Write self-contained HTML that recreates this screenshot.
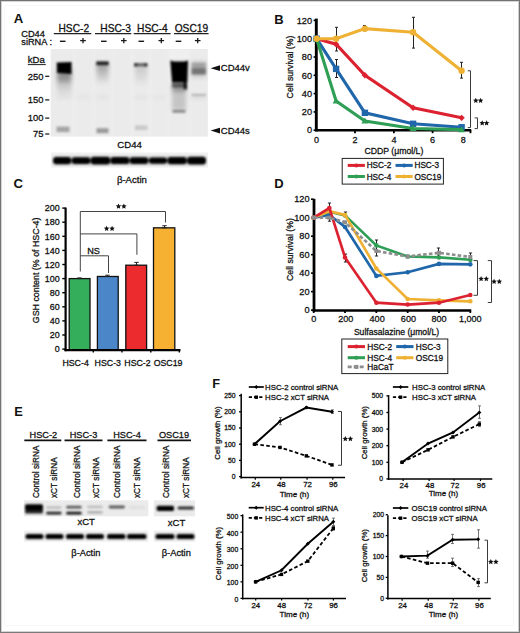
<!DOCTYPE html><html><head><meta charset="utf-8"><style>
html,body{margin:0;padding:0;background:#fff;}
svg{display:block;font-family:"Liberation Sans", sans-serif;}
</style></head><body>
<svg width="520" height="633" viewBox="0 0 520 633">
<defs><filter id="b1" x="-50%" y="-50%" width="200%" height="200%"><feGaussianBlur stdDeviation="1.2"/></filter><filter id="b2" x="-50%" y="-50%" width="200%" height="200%"><feGaussianBlur stdDeviation="2.2"/></filter><filter id="b3" x="-50%" y="-50%" width="200%" height="200%"><feGaussianBlur stdDeviation="0.8"/></filter><linearGradient id="smear" x1="0" y1="0" x2="0" y2="1"><stop offset="0" stop-color="#000" stop-opacity="0.35"/><stop offset="1" stop-color="#000" stop-opacity="0"/></linearGradient></defs>
<rect x="0" y="0" width="520" height="633" fill="#fff" />
<text x="13.8" y="23.3" font-size="13.2" text-anchor="start" font-weight="bold" fill="#111"  >A</text>
<text x="21.3" y="36.7" font-size="9.2" text-anchor="start" font-weight="normal" fill="#111" stroke="#111" stroke-width="0.28" >CD44</text>
<text x="21.3" y="45.2" font-size="9.2" text-anchor="start" font-weight="normal" fill="#111" stroke="#111" stroke-width="0.28" >siRNA</text>
<text x="49.6" y="45.2" font-size="9.2" text-anchor="start" font-weight="normal" fill="#111" stroke="#111" stroke-width="0.28" >:</text>
<text x="73.8" y="31.6" font-size="10.2" text-anchor="middle" font-weight="normal" fill="#111" stroke="#111" stroke-width="0.28" >HSC-2</text>
<line x1="53.8" y1="33.6" x2="91.3" y2="33.6" stroke="#222" stroke-width="1.2" />
<text x="115.6" y="31.6" font-size="10.2" text-anchor="middle" font-weight="normal" fill="#111" stroke="#111" stroke-width="0.28" >HSC-3</text>
<line x1="95" y1="33.6" x2="131.3" y2="33.6" stroke="#222" stroke-width="1.2" />
<text x="152.4" y="31.6" font-size="10.2" text-anchor="middle" font-weight="normal" fill="#111" stroke="#111" stroke-width="0.28" >HSC-4</text>
<line x1="133.7" y1="33.6" x2="170.6" y2="33.6" stroke="#222" stroke-width="1.2" />
<text x="191.4" y="31.6" font-size="10.2" text-anchor="middle" font-weight="normal" fill="#111" stroke="#111" stroke-width="0.28" >OSC19</text>
<line x1="174" y1="33.6" x2="208.6" y2="33.6" stroke="#222" stroke-width="1.2" />
<line x1="59.900000000000006" y1="41.3" x2="65.5" y2="41.3" stroke="#1a1a1a" stroke-width="1.4" />
<line x1="101.0" y1="41.3" x2="106.6" y2="41.3" stroke="#1a1a1a" stroke-width="1.4" />
<line x1="138.5" y1="41.3" x2="144.10000000000002" y2="41.3" stroke="#1a1a1a" stroke-width="1.4" />
<line x1="175.7" y1="41.3" x2="181.3" y2="41.3" stroke="#1a1a1a" stroke-width="1.4" />
<line x1="80.2" y1="40.6" x2="85.8" y2="40.6" stroke="#1a1a1a" stroke-width="1.3" />
<line x1="83.0" y1="38.0" x2="83.0" y2="43.2" stroke="#1a1a1a" stroke-width="1.3" />
<line x1="121.0" y1="40.6" x2="126.6" y2="40.6" stroke="#1a1a1a" stroke-width="1.3" />
<line x1="123.8" y1="38.0" x2="123.8" y2="43.2" stroke="#1a1a1a" stroke-width="1.3" />
<line x1="158.5" y1="40.6" x2="164.10000000000002" y2="40.6" stroke="#1a1a1a" stroke-width="1.3" />
<line x1="161.3" y1="38.0" x2="161.3" y2="43.2" stroke="#1a1a1a" stroke-width="1.3" />
<line x1="194.89999999999998" y1="40.6" x2="200.5" y2="40.6" stroke="#1a1a1a" stroke-width="1.3" />
<line x1="197.7" y1="38.0" x2="197.7" y2="43.2" stroke="#1a1a1a" stroke-width="1.3" />
<text x="27.8" y="63.0" font-size="9.6" text-anchor="start" font-weight="normal" fill="#111" stroke="#111" stroke-width="0.28" >kDa</text>
<line x1="27.8" y1="64.6" x2="45.8" y2="64.6" stroke="#222" stroke-width="1.0" />
<text x="43.4" y="79.6" font-size="9.4" text-anchor="end" font-weight="normal" fill="#111" stroke="#111" stroke-width="0.28" >250</text>
<line x1="45.2" y1="76.3" x2="49.3" y2="76.3" stroke="#222" stroke-width="1.3" />
<text x="43.4" y="103.2" font-size="9.4" text-anchor="end" font-weight="normal" fill="#111" stroke="#111" stroke-width="0.28" >150</text>
<line x1="45.2" y1="99.9" x2="49.3" y2="99.9" stroke="#222" stroke-width="1.3" />
<text x="43.4" y="121.39999999999999" font-size="9.4" text-anchor="end" font-weight="normal" fill="#111" stroke="#111" stroke-width="0.28" >100</text>
<line x1="45.2" y1="118.1" x2="49.3" y2="118.1" stroke="#222" stroke-width="1.3" />
<text x="43.4" y="137.3" font-size="9.4" text-anchor="end" font-weight="normal" fill="#111" stroke="#111" stroke-width="0.28" >75</text>
<line x1="45.2" y1="134.0" x2="49.3" y2="134.0" stroke="#222" stroke-width="1.3" />
<g>
<rect x="50.7" y="49.0" width="157.1" height="87.6" fill="#ebebeb" />
<g filter="url(#b1)" opacity="0.28">
<rect x="73.5" y="49" width="2" height="87" fill="#fafafa"/>
<rect x="92.5" y="49" width="2" height="87" fill="#fafafa"/>
<rect x="111.5" y="49" width="2" height="87" fill="#fafafa"/>
<rect x="131" y="49" width="2" height="87" fill="#fafafa"/>
<rect x="149" y="49" width="2" height="87" fill="#fafafa"/>
<rect x="167.5" y="49" width="2" height="87" fill="#fafafa"/>
<rect x="188.5" y="49" width="2" height="87" fill="#fafafa"/>
<rect x="170" y="49" width="18" height="10" fill="#fafafa"/>
</g>
<g filter="url(#b2)">
<rect x="57" y="68" width="14.5" height="30" fill="url(#smear)"/>
<rect x="57" y="72" width="14.5" height="10" fill="#000" opacity="0.18"/>
<rect x="96.5" y="63" width="12" height="22" fill="url(#smear)"/>
<rect x="135" y="65" width="12.5" height="22" fill="url(#smear)" opacity="0.45"/>
<rect x="172" y="84" width="14" height="8" fill="#000" opacity="0.35"/>
<rect x="172" y="92" width="14" height="18" fill="#000" opacity="0.16"/>
<rect x="191" y="61.5" width="15" height="16" fill="#000" opacity="0.15"/>
<rect x="57" y="96.2" width="14" height="2.2" fill="#000" opacity="0.07"/>
<rect x="76.5" y="96.2" width="14" height="2.2" fill="#000" opacity="0.05"/>
<rect x="96.5" y="96.2" width="12" height="2.2" fill="#000" opacity="0.06"/>
<rect x="135" y="96.2" width="12.5" height="2.2" fill="#000" opacity="0.06"/>
<rect x="153" y="96.2" width="13" height="2.2" fill="#000" opacity="0.05"/>
<rect x="191" y="96.2" width="15" height="2.2" fill="#000" opacity="0.12"/>
</g>
<g filter="url(#b1)">
<path d="M56.6,62.5 L71.6,62 L71.4,74 L57.2,73 Z" fill="#000"/>
<rect x="56.5" y="126.6" width="13" height="5.5" fill="#000" opacity="0.3"/>
<rect x="96.3" y="61.4" width="12.4" height="3.8" fill="#000" opacity="0.82"/>
<rect x="96.5" y="128.2" width="12" height="5" fill="#000" opacity="0.34"/>
<rect x="134.2" y="63.2" width="13" height="3.2" fill="#000" opacity="0.55"/>
<rect x="134.2" y="63" width="3" height="3.6" fill="#000" opacity="0.5"/>
<rect x="144.4" y="63" width="3" height="3.6" fill="#000" opacity="0.5"/>
<rect x="135" y="125.5" width="12.5" height="4.5" fill="#000" opacity="0.15"/>
<path d="M170.3,60.5 L174,61.5 L184,61.5 L188,60.5 L187.4,82 L172,82 Z" fill="#000"/>
<rect x="172" y="81" width="15" height="6.5" fill="#000" opacity="0.5"/>
<rect x="183.5" y="81" width="3.5" height="8.5" fill="#000" opacity="0.8"/>
<rect x="172.5" y="109.8" width="13" height="3" fill="#000" opacity="0.38"/>
<rect x="191.5" y="62.5" width="14.5" height="6.5" fill="#000" opacity="0.2"/>
<rect x="191.5" y="68.5" width="14.5" height="6" fill="#000" opacity="0.42"/>
<rect x="191.5" y="93.8" width="14.5" height="2.2" fill="#000" opacity="0.2"/>
</g>
</g>
<path d="M210.6,68.2 L220,65.3 L220,71.1 Z" fill="#111"/>
<text x="220.8" y="71.0" font-size="9.5" text-anchor="start" font-weight="normal" fill="#111" stroke="#111" stroke-width="0.28" >CD44v</text>
<path d="M210.6,130.6 L220,127.7 L220,133.5 Z" fill="#111"/>
<text x="220.8" y="133.6" font-size="9.5" text-anchor="start" font-weight="normal" fill="#111" stroke="#111" stroke-width="0.28" >CD44s</text>
<text x="129.6" y="148.4" font-size="9.6" text-anchor="middle" font-weight="normal" fill="#111" stroke="#111" stroke-width="0.28" >CD44</text>
<rect x="51" y="152.5" width="157" height="15" fill="#f0f0f0" />
<g filter="url(#b3)">
<rect x="53" y="155.8" width="153" height="9.4" rx="4" fill="#000" opacity="0.12"/>
<rect x="53" y="156.9" width="18.200000000000003" height="7.4" rx="3.2" fill="#030303"/>
<rect x="71.6" y="157.2" width="19.0" height="6.8" rx="3.2" fill="#030303"/>
<rect x="90.8" y="156.79999999999998" width="19.400000000000006" height="7.6" rx="3.2" fill="#030303"/>
<rect x="110.5" y="157.1" width="18.900000000000006" height="7.0" rx="3.2" fill="#030303"/>
<rect x="129.6" y="157.2" width="18.80000000000001" height="6.8" rx="3.2" fill="#030303"/>
<rect x="148.8" y="157.5" width="18.399999999999977" height="6.2" rx="3.2" fill="#030303"/>
<rect x="167.5" y="157.0" width="19.30000000000001" height="7.2" rx="3.2" fill="#030303"/>
<rect x="187.2" y="156.79999999999998" width="18.80000000000001" height="7.6" rx="3.2" fill="#030303"/>
</g>
<text x="131.9" y="183.2" font-size="9.6" text-anchor="middle" font-weight="normal" fill="#111" stroke="#111" stroke-width="0.28" >β-Actin</text>
<text x="274.3" y="23.8" font-size="13.0" text-anchor="start" font-weight="bold" fill="#111"  >B</text>
<text transform="translate(293.1,67.0) rotate(-90)" stroke="#111" stroke-width="0.28" font-size="8.7" text-anchor="middle" fill="#111">Cell survival (%)</text>
<text x="312.0" y="133.39999999999998" font-size="9.2" text-anchor="end" font-weight="normal" fill="#111" stroke="#111" stroke-width="0.28" >0</text>
<line x1="313.6" y1="130.2" x2="316.6" y2="130.2" stroke="#000" stroke-width="1.6" />
<text x="312.0" y="115.1" font-size="9.2" text-anchor="end" font-weight="normal" fill="#111" stroke="#111" stroke-width="0.28" >20</text>
<line x1="313.6" y1="111.89999999999999" x2="316.6" y2="111.89999999999999" stroke="#000" stroke-width="1.6" />
<text x="312.0" y="96.8" font-size="9.2" text-anchor="end" font-weight="normal" fill="#111" stroke="#111" stroke-width="0.28" >40</text>
<line x1="313.6" y1="93.6" x2="316.6" y2="93.6" stroke="#000" stroke-width="1.6" />
<text x="312.0" y="78.49999999999999" font-size="9.2" text-anchor="end" font-weight="normal" fill="#111" stroke="#111" stroke-width="0.28" >60</text>
<line x1="313.6" y1="75.29999999999998" x2="316.6" y2="75.29999999999998" stroke="#000" stroke-width="1.6" />
<text x="312.0" y="60.19999999999999" font-size="9.2" text-anchor="end" font-weight="normal" fill="#111" stroke="#111" stroke-width="0.28" >80</text>
<line x1="313.6" y1="56.999999999999986" x2="316.6" y2="56.999999999999986" stroke="#000" stroke-width="1.6" />
<text x="312.0" y="41.89999999999999" font-size="9.2" text-anchor="end" font-weight="normal" fill="#111" stroke="#111" stroke-width="0.28" >100</text>
<line x1="313.6" y1="38.69999999999999" x2="316.6" y2="38.69999999999999" stroke="#000" stroke-width="1.6" />
<text x="312.0" y="23.599999999999977" font-size="9.2" text-anchor="end" font-weight="normal" fill="#111" stroke="#111" stroke-width="0.28" >120</text>
<line x1="313.6" y1="20.399999999999977" x2="316.6" y2="20.399999999999977" stroke="#000" stroke-width="1.6" />
<text x="316.4" y="142.6" font-size="9.0" text-anchor="middle" font-weight="normal" fill="#111" stroke="#111" stroke-width="0.28" >0</text>
<text x="355.0" y="142.6" font-size="9.0" text-anchor="middle" font-weight="normal" fill="#111" stroke="#111" stroke-width="0.28" >2</text>
<text x="393.9" y="142.6" font-size="9.0" text-anchor="middle" font-weight="normal" fill="#111" stroke="#111" stroke-width="0.28" >4</text>
<text x="432.6" y="142.6" font-size="9.0" text-anchor="middle" font-weight="normal" fill="#111" stroke="#111" stroke-width="0.28" >6</text>
<text x="463.3" y="142.6" font-size="9.0" text-anchor="middle" font-weight="normal" fill="#111" stroke="#111" stroke-width="0.28" >8</text>
<line x1="355.0" y1="130.2" x2="355.0" y2="133.2" stroke="#000" stroke-width="1.8" />
<line x1="393.9" y1="130.2" x2="393.9" y2="133.2" stroke="#000" stroke-width="1.8" />
<line x1="432.6" y1="130.2" x2="432.6" y2="133.2" stroke="#000" stroke-width="1.8" />
<line x1="470.5" y1="130.2" x2="470.5" y2="133.2" stroke="#000" stroke-width="1.8" />
<line x1="316.3" y1="18.6" x2="316.3" y2="131.4" stroke="#000" stroke-width="2.9" />
<line x1="315.0" y1="130.3" x2="471.2" y2="130.3" stroke="#000" stroke-width="2.6" />
<line x1="336.5" y1="27.3" x2="336.5" y2="51.0" stroke="#222" stroke-width="1.0" />
<line x1="335.0" y1="27.3" x2="338.0" y2="27.3" stroke="#222" stroke-width="1.0" />
<line x1="335.0" y1="51.0" x2="338.0" y2="51.0" stroke="#222" stroke-width="1.0" />
<line x1="336.5" y1="59.5" x2="336.5" y2="77.5" stroke="#222" stroke-width="1.0" />
<line x1="335.0" y1="59.5" x2="338.0" y2="59.5" stroke="#222" stroke-width="1.0" />
<line x1="335.0" y1="77.5" x2="338.0" y2="77.5" stroke="#222" stroke-width="1.0" />
<line x1="364.5" y1="25.5" x2="364.5" y2="30.8" stroke="#222" stroke-width="1.0" />
<line x1="363.0" y1="25.5" x2="366.0" y2="25.5" stroke="#222" stroke-width="1.0" />
<line x1="363.0" y1="30.8" x2="366.0" y2="30.8" stroke="#222" stroke-width="1.0" />
<line x1="413.5" y1="17.3" x2="413.5" y2="48.1" stroke="#222" stroke-width="1.0" />
<line x1="412.0" y1="17.3" x2="415.0" y2="17.3" stroke="#222" stroke-width="1.0" />
<line x1="412.0" y1="48.1" x2="415.0" y2="48.1" stroke="#222" stroke-width="1.0" />
<line x1="461.5" y1="62.3" x2="461.5" y2="78.1" stroke="#222" stroke-width="1.0" />
<line x1="460.0" y1="62.3" x2="463.0" y2="62.3" stroke="#222" stroke-width="1.0" />
<line x1="460.0" y1="78.1" x2="463.0" y2="78.1" stroke="#222" stroke-width="1.0" />
<polyline points="316.60,38.70 336.10,44.19 364.90,75.30 413.10,107.78 461.60,117.85" fill="none" stroke="#dc2230" stroke-width="3.1" stroke-linejoin="miter" />
<path d="M316.6,35.499999999999986 L319.8,38.69999999999999 L316.6,41.89999999999999 L313.40000000000003,38.69999999999999 Z" fill="#dc2230"/>
<path d="M336.1,40.98999999999998 L339.3,44.18999999999998 L336.1,47.389999999999986 L332.90000000000003,44.18999999999998 Z" fill="#dc2230"/>
<path d="M364.9,72.09999999999998 L368.09999999999997,75.29999999999998 L364.9,78.49999999999999 L361.7,75.29999999999998 Z" fill="#dc2230"/>
<path d="M413.1,104.58249999999998 L416.3,107.78249999999998 L413.1,110.98249999999999 L409.90000000000003,107.78249999999998 Z" fill="#dc2230"/>
<path d="M461.6,114.64749999999998 L464.8,117.84749999999998 L461.6,121.04749999999999 L458.40000000000003,117.84749999999998 Z" fill="#dc2230"/>
<polyline points="316.60,38.70 336.10,68.89 364.90,112.81 413.10,123.79 461.60,127.27" fill="none" stroke="#1f66aa" stroke-width="3.1" stroke-linejoin="miter" />
<rect x="313.40000000000003" y="35.499999999999986" width="6.4" height="6.4" fill="#1f66aa"/>
<rect x="332.90000000000003" y="65.69499999999998" width="6.4" height="6.4" fill="#1f66aa"/>
<rect x="361.7" y="109.61499999999998" width="6.4" height="6.4" fill="#1f66aa"/>
<rect x="409.90000000000003" y="120.59499999999998" width="6.4" height="6.4" fill="#1f66aa"/>
<rect x="458.40000000000003" y="124.07199999999999" width="6.4" height="6.4" fill="#1f66aa"/>
<polyline points="316.60,38.70 336.10,100.92 364.90,121.05 413.10,128.55 461.60,129.65" fill="none" stroke="#2f9f55" stroke-width="3.1" stroke-linejoin="miter" />
<path d="M316.6,35.179999999999986 L320.12,41.25999999999999 L313.08000000000004,41.25999999999999 Z" fill="#2f9f55"/>
<path d="M336.1,97.39999999999999 L339.62,103.47999999999999 L332.58000000000004,103.47999999999999 Z" fill="#2f9f55"/>
<path d="M364.9,117.52999999999999 L368.41999999999996,123.60999999999999 L361.38,123.60999999999999 Z" fill="#2f9f55"/>
<path d="M413.1,125.033 L416.62,131.113 L409.58000000000004,131.113 Z" fill="#2f9f55"/>
<path d="M461.6,126.13099999999999 L465.12,132.21099999999998 L458.08000000000004,132.21099999999998 Z" fill="#2f9f55"/>
<polyline points="316.60,38.70 336.10,38.70 364.90,28.63 413.10,32.29 461.60,70.72" fill="none" stroke="#efb134" stroke-width="3.1" stroke-linejoin="miter" />
<circle cx="316.6" cy="38.69999999999999" r="3.2" fill="#efb134"/>
<circle cx="336.1" cy="38.69999999999999" r="3.2" fill="#efb134"/>
<circle cx="364.9" cy="28.63499999999999" r="3.2" fill="#efb134"/>
<circle cx="413.1" cy="32.29499999999999" r="3.2" fill="#efb134"/>
<circle cx="461.6" cy="70.725" r="3.2" fill="#efb134"/>
<polyline points="467.8,70.8 470.5,70.8 470.5,127.6 467.8,127.6" fill="none" stroke="#3a3a3a" stroke-width="1.0"/>
<polygon points="475.80,97.70 476.59,99.51 478.56,99.70 477.08,101.02 477.50,102.95 475.80,101.95 474.10,102.95 474.52,101.02 473.04,99.70 475.01,99.51" fill="#111"/>
<polygon points="480.60,97.70 481.39,99.51 483.36,99.70 481.88,101.02 482.30,102.95 480.60,101.95 478.90,102.95 479.32,101.02 477.84,99.70 479.81,99.51" fill="#111"/>
<polyline points="474.6,117.9 477.5,117.9 477.5,128.6 474.6,128.6" fill="none" stroke="#3a3a3a" stroke-width="1.0"/>
<polygon points="482.20,120.30 482.99,122.11 484.96,122.30 483.48,123.62 483.90,125.55 482.20,124.55 480.50,125.55 480.92,123.62 479.44,122.30 481.41,122.11" fill="#111"/>
<polygon points="486.60,120.30 487.39,122.11 489.36,122.30 487.88,123.62 488.30,125.55 486.60,124.55 484.90,125.55 485.32,123.62 483.84,122.30 485.81,122.11" fill="#111"/>
<text x="393.9" y="153.9" font-size="8.7" text-anchor="middle" font-weight="normal" fill="#111" stroke="#111" stroke-width="0.28" >CDDP (μmol/L)</text>
<rect x="342.2" y="158.4" width="101.2" height="25.7" fill="none" stroke="#222" stroke-width="1"/>
<line x1="347.7" y1="165.4" x2="364.9" y2="165.4" stroke="#dc2230" stroke-width="3.0" />
<circle cx="356.3" cy="165.4" r="2.0" fill="#dc2230"/>
<text x="366.7" y="168.4" font-size="8.2" text-anchor="start" font-weight="normal" fill="#111" stroke="#111" stroke-width="0.28" >HSC-2</text>
<line x1="395.5" y1="165.4" x2="412.7" y2="165.4" stroke="#1f66aa" stroke-width="3.0" />
<circle cx="404.1" cy="165.4" r="2.0" fill="#1f66aa"/>
<text x="414.5" y="168.4" font-size="8.2" text-anchor="start" font-weight="normal" fill="#111" stroke="#111" stroke-width="0.28" >HSC-3</text>
<line x1="347.7" y1="176.5" x2="364.9" y2="176.5" stroke="#2f9f55" stroke-width="3.0" />
<circle cx="356.3" cy="176.5" r="2.0" fill="#2f9f55"/>
<text x="366.7" y="179.5" font-size="8.2" text-anchor="start" font-weight="normal" fill="#111" stroke="#111" stroke-width="0.28" >HSC-4</text>
<line x1="395.5" y1="176.5" x2="412.7" y2="176.5" stroke="#efb134" stroke-width="3.0" />
<circle cx="404.1" cy="176.5" r="2.0" fill="#efb134"/>
<text x="414.5" y="179.5" font-size="8.2" text-anchor="start" font-weight="normal" fill="#111" stroke="#111" stroke-width="0.28" >OSC19</text>
<text x="13.5" y="187.9" font-size="13.2" text-anchor="start" font-weight="bold" fill="#111"  >C</text>
<text transform="translate(38.9,270.4) rotate(-90)" stroke="#111" stroke-width="0.28" font-size="8.85" text-anchor="middle" fill="#111">GSH content (% of HSC-4)</text>
<text x="59.6" y="352.3" font-size="8.9" text-anchor="end" font-weight="normal" fill="#111" stroke="#111" stroke-width="0.28" >0</text>
<line x1="62.3" y1="349.1" x2="65.8" y2="349.1" stroke="#000" stroke-width="1.4" />
<text x="59.6" y="338.2" font-size="8.9" text-anchor="end" font-weight="normal" fill="#111" stroke="#111" stroke-width="0.28" >20</text>
<line x1="62.3" y1="335.0" x2="65.8" y2="335.0" stroke="#000" stroke-width="1.4" />
<text x="59.6" y="324.1" font-size="8.9" text-anchor="end" font-weight="normal" fill="#111" stroke="#111" stroke-width="0.28" >40</text>
<line x1="62.3" y1="320.90000000000003" x2="65.8" y2="320.90000000000003" stroke="#000" stroke-width="1.4" />
<text x="59.6" y="310.0" font-size="8.9" text-anchor="end" font-weight="normal" fill="#111" stroke="#111" stroke-width="0.28" >60</text>
<line x1="62.3" y1="306.8" x2="65.8" y2="306.8" stroke="#000" stroke-width="1.4" />
<text x="59.6" y="295.90000000000003" font-size="8.9" text-anchor="end" font-weight="normal" fill="#111" stroke="#111" stroke-width="0.28" >80</text>
<line x1="62.3" y1="292.70000000000005" x2="65.8" y2="292.70000000000005" stroke="#000" stroke-width="1.4" />
<text x="59.6" y="281.8" font-size="8.9" text-anchor="end" font-weight="normal" fill="#111" stroke="#111" stroke-width="0.28" >100</text>
<line x1="62.3" y1="278.6" x2="65.8" y2="278.6" stroke="#000" stroke-width="1.4" />
<text x="59.6" y="267.7" font-size="8.9" text-anchor="end" font-weight="normal" fill="#111" stroke="#111" stroke-width="0.28" >120</text>
<line x1="62.3" y1="264.5" x2="65.8" y2="264.5" stroke="#000" stroke-width="1.4" />
<text x="59.6" y="253.60000000000002" font-size="8.9" text-anchor="end" font-weight="normal" fill="#111" stroke="#111" stroke-width="0.28" >140</text>
<line x1="62.3" y1="250.40000000000003" x2="65.8" y2="250.40000000000003" stroke="#000" stroke-width="1.4" />
<text x="59.6" y="239.5" font-size="8.9" text-anchor="end" font-weight="normal" fill="#111" stroke="#111" stroke-width="0.28" >160</text>
<line x1="62.3" y1="236.3" x2="65.8" y2="236.3" stroke="#000" stroke-width="1.4" />
<text x="59.6" y="225.40000000000003" font-size="8.9" text-anchor="end" font-weight="normal" fill="#111" stroke="#111" stroke-width="0.28" >180</text>
<line x1="62.3" y1="222.20000000000005" x2="65.8" y2="222.20000000000005" stroke="#000" stroke-width="1.4" />
<text x="59.6" y="211.3" font-size="8.9" text-anchor="end" font-weight="normal" fill="#111" stroke="#111" stroke-width="0.28" >200</text>
<line x1="62.3" y1="208.10000000000002" x2="65.8" y2="208.10000000000002" stroke="#000" stroke-width="1.4" />
<rect x="69.2" y="278.6" width="20.799999999999997" height="71.59999999999997" fill="#35ae5c" stroke="#111" stroke-width="1.3"/>
<line x1="79.5" y1="277.89500000000004" x2="79.5" y2="278.6" stroke="#222" stroke-width="1" />
<line x1="77.3" y1="277.89500000000004" x2="81.7" y2="277.89500000000004" stroke="#222" stroke-width="1" />
<line x1="77.3" y1="278.6" x2="81.7" y2="278.6" stroke="#222" stroke-width="1" />
<rect x="97.4" y="276.485" width="20.799999999999997" height="73.71499999999997" fill="#4b87c8" stroke="#111" stroke-width="1.3"/>
<line x1="107.5" y1="275.216" x2="107.5" y2="276.485" stroke="#222" stroke-width="1" />
<line x1="105.3" y1="275.216" x2="109.7" y2="275.216" stroke="#222" stroke-width="1" />
<line x1="105.3" y1="276.485" x2="109.7" y2="276.485" stroke="#222" stroke-width="1" />
<rect x="125.8" y="265.20500000000004" width="20.799999999999997" height="84.99499999999995" fill="#ec2b2e" stroke="#111" stroke-width="1.3"/>
<line x1="136.5" y1="262.38500000000005" x2="136.5" y2="265.20500000000004" stroke="#222" stroke-width="1" />
<line x1="134.3" y1="262.38500000000005" x2="138.7" y2="262.38500000000005" stroke="#222" stroke-width="1" />
<line x1="134.3" y1="265.20500000000004" x2="138.7" y2="265.20500000000004" stroke="#222" stroke-width="1" />
<rect x="153.5" y="227.84000000000003" width="21.30000000000001" height="122.35999999999996" fill="#f6b032" stroke="#111" stroke-width="1.3"/>
<line x1="164.5" y1="225.72500000000002" x2="164.5" y2="227.84000000000003" stroke="#222" stroke-width="1" />
<line x1="162.3" y1="225.72500000000002" x2="166.7" y2="225.72500000000002" stroke="#222" stroke-width="1" />
<line x1="162.3" y1="227.84000000000003" x2="166.7" y2="227.84000000000003" stroke="#222" stroke-width="1" />
<line x1="65.6" y1="207.6" x2="65.6" y2="351.2" stroke="#000" stroke-width="2.2" />
<line x1="64.5" y1="350.2" x2="180.5" y2="350.2" stroke="#000" stroke-width="2.2" />
<line x1="93.3" y1="350.2" x2="93.3" y2="352.6" stroke="#000" stroke-width="1.4" />
<line x1="122" y1="350.2" x2="122" y2="352.6" stroke="#000" stroke-width="1.4" />
<line x1="150.8" y1="350.2" x2="150.8" y2="352.6" stroke="#000" stroke-width="1.4" />
<line x1="179.3" y1="350.2" x2="179.3" y2="352.6" stroke="#000" stroke-width="1.4" />
<polyline points="80.3,271.5 80.3,211.5 165.5,211.5 165.5,222.5" fill="none" stroke="#444" stroke-width="1"/>
<polyline points="80.3,233.9 136.9,233.9 136.9,254.8" fill="none" stroke="#444" stroke-width="1"/>
<polyline points="80.3,255.8 108.5,255.8 108.5,273" fill="none" stroke="#444" stroke-width="1"/>
<polygon points="118.50,203.50 119.29,205.31 121.26,205.50 119.78,206.82 120.20,208.75 118.50,207.75 116.80,208.75 117.22,206.82 115.74,205.50 117.71,205.31" fill="#111"/>
<polygon points="123.90,203.50 124.69,205.31 126.66,205.50 125.18,206.82 125.60,208.75 123.90,207.75 122.20,208.75 122.62,206.82 121.14,205.50 123.11,205.31" fill="#111"/>
<polygon points="106.60,225.70 107.39,227.51 109.36,227.70 107.88,229.02 108.30,230.95 106.60,229.95 104.90,230.95 105.32,229.02 103.84,227.70 105.81,227.51" fill="#111"/>
<polygon points="112.10,225.70 112.89,227.51 114.86,227.70 113.38,229.02 113.80,230.95 112.10,229.95 110.40,230.95 110.82,229.02 109.34,227.70 111.31,227.51" fill="#111"/>
<text x="87.2" y="254.2" font-size="9.2" text-anchor="start" font-weight="normal" fill="#111" stroke="#111" stroke-width="0.28" >NS</text>
<text x="75.6" y="365.9" font-size="8.8" text-anchor="middle" font-weight="normal" fill="#111" stroke="#111" stroke-width="0.28" >HSC-4</text>
<text x="107.8" y="365.9" font-size="8.8" text-anchor="middle" font-weight="normal" fill="#111" stroke="#111" stroke-width="0.28" >HSC-3</text>
<text x="137.5" y="365.9" font-size="8.8" text-anchor="middle" font-weight="normal" fill="#111" stroke="#111" stroke-width="0.28" >HSC-2</text>
<text x="168.1" y="365.9" font-size="8.8" text-anchor="middle" font-weight="normal" fill="#111" stroke="#111" stroke-width="0.28" >OSC19</text>
<text x="274.3" y="188.0" font-size="13.0" text-anchor="start" font-weight="bold" fill="#111"  >D</text>
<text transform="translate(293.0,249.6) rotate(-90)" stroke="#111" stroke-width="0.28" font-size="8.7" text-anchor="middle" fill="#111">Cell survival (%)</text>
<text x="309.6" y="313.3" font-size="9.2" text-anchor="end" font-weight="normal" fill="#111" stroke="#111" stroke-width="0.28" >0</text>
<line x1="311" y1="310.1" x2="313.8" y2="310.1" stroke="#000" stroke-width="1.6" />
<text x="309.6" y="294.82" font-size="9.2" text-anchor="end" font-weight="normal" fill="#111" stroke="#111" stroke-width="0.28" >20</text>
<line x1="311" y1="291.62" x2="313.8" y2="291.62" stroke="#000" stroke-width="1.6" />
<text x="309.6" y="276.34000000000003" font-size="9.2" text-anchor="end" font-weight="normal" fill="#111" stroke="#111" stroke-width="0.28" >40</text>
<line x1="311" y1="273.14000000000004" x2="313.8" y2="273.14000000000004" stroke="#000" stroke-width="1.6" />
<text x="309.6" y="257.86" font-size="9.2" text-anchor="end" font-weight="normal" fill="#111" stroke="#111" stroke-width="0.28" >60</text>
<line x1="311" y1="254.66000000000003" x2="313.8" y2="254.66000000000003" stroke="#000" stroke-width="1.6" />
<text x="309.6" y="239.38" font-size="9.2" text-anchor="end" font-weight="normal" fill="#111" stroke="#111" stroke-width="0.28" >80</text>
<line x1="311" y1="236.18" x2="313.8" y2="236.18" stroke="#000" stroke-width="1.6" />
<text x="309.6" y="220.9" font-size="9.2" text-anchor="end" font-weight="normal" fill="#111" stroke="#111" stroke-width="0.28" >100</text>
<line x1="311" y1="217.70000000000002" x2="313.8" y2="217.70000000000002" stroke="#000" stroke-width="1.6" />
<text x="309.6" y="202.42000000000002" font-size="9.2" text-anchor="end" font-weight="normal" fill="#111" stroke="#111" stroke-width="0.28" >120</text>
<line x1="311" y1="199.22000000000003" x2="313.8" y2="199.22000000000003" stroke="#000" stroke-width="1.6" />
<text x="313.7" y="322.3" font-size="9.1" text-anchor="middle" font-weight="normal" fill="#111" stroke="#111" stroke-width="0.28" >0</text>
<line x1="313.7" y1="310.1" x2="313.7" y2="313" stroke="#000" stroke-width="1.8" />
<text x="345.82" y="322.3" font-size="9.1" text-anchor="middle" font-weight="normal" fill="#111" stroke="#111" stroke-width="0.28" >200</text>
<line x1="345.02" y1="310.1" x2="345.02" y2="313" stroke="#000" stroke-width="1.8" />
<text x="377.14" y="322.3" font-size="9.1" text-anchor="middle" font-weight="normal" fill="#111" stroke="#111" stroke-width="0.28" >400</text>
<line x1="376.34" y1="310.1" x2="376.34" y2="313" stroke="#000" stroke-width="1.8" />
<text x="408.46" y="322.3" font-size="9.1" text-anchor="middle" font-weight="normal" fill="#111" stroke="#111" stroke-width="0.28" >600</text>
<line x1="407.65999999999997" y1="310.1" x2="407.65999999999997" y2="313" stroke="#000" stroke-width="1.8" />
<text x="438.97999999999996" y="322.3" font-size="9.1" text-anchor="middle" font-weight="normal" fill="#111" stroke="#111" stroke-width="0.28" >800</text>
<line x1="438.97999999999996" y1="310.1" x2="438.97999999999996" y2="313" stroke="#000" stroke-width="1.8" />
<text x="470.29999999999995" y="322.3" font-size="9.1" text-anchor="middle" font-weight="normal" fill="#111" stroke="#111" stroke-width="0.28" >1,000</text>
<line x1="470.29999999999995" y1="310.1" x2="470.29999999999995" y2="313" stroke="#000" stroke-width="1.8" />
<line x1="314.0" y1="198.8" x2="314.0" y2="311.6" stroke="#000" stroke-width="2.8" />
<line x1="312.8" y1="310.6" x2="471.2" y2="310.6" stroke="#000" stroke-width="2.5" />
<line x1="329.5" y1="203.0" x2="329.5" y2="209" stroke="#222" stroke-width="1.0" />
<line x1="327.9" y1="203.0" x2="331.1" y2="203.0" stroke="#222" stroke-width="1.0" />
<line x1="327.9" y1="209" x2="331.1" y2="209" stroke="#222" stroke-width="1.0" />
<line x1="329.5" y1="216.5" x2="329.5" y2="221.2" stroke="#222" stroke-width="1.0" />
<line x1="327.9" y1="216.5" x2="331.1" y2="216.5" stroke="#222" stroke-width="1.0" />
<line x1="327.9" y1="221.2" x2="331.1" y2="221.2" stroke="#222" stroke-width="1.0" />
<line x1="345.5" y1="212.0" x2="345.5" y2="216" stroke="#222" stroke-width="1.0" />
<line x1="343.9" y1="212.0" x2="347.1" y2="212.0" stroke="#222" stroke-width="1.0" />
<line x1="343.9" y1="216" x2="347.1" y2="216" stroke="#222" stroke-width="1.0" />
<line x1="345.5" y1="254.0" x2="345.5" y2="262" stroke="#222" stroke-width="1.0" />
<line x1="343.9" y1="254.0" x2="347.1" y2="254.0" stroke="#222" stroke-width="1.0" />
<line x1="343.9" y1="262" x2="347.1" y2="262" stroke="#222" stroke-width="1.0" />
<line x1="376.5" y1="240.0" x2="376.5" y2="256" stroke="#222" stroke-width="1.0" />
<line x1="374.9" y1="240.0" x2="378.1" y2="240.0" stroke="#222" stroke-width="1.0" />
<line x1="374.9" y1="256" x2="378.1" y2="256" stroke="#222" stroke-width="1.0" />
<line x1="438.5" y1="248.0" x2="438.5" y2="256" stroke="#222" stroke-width="1.0" />
<line x1="436.9" y1="248.0" x2="440.1" y2="248.0" stroke="#222" stroke-width="1.0" />
<line x1="436.9" y1="256" x2="440.1" y2="256" stroke="#222" stroke-width="1.0" />
<line x1="470.5" y1="253.0" x2="470.5" y2="261" stroke="#222" stroke-width="1.0" />
<line x1="468.9" y1="253.0" x2="472.1" y2="253.0" stroke="#222" stroke-width="1.0" />
<line x1="468.9" y1="261" x2="472.1" y2="261" stroke="#222" stroke-width="1.0" />
<polyline points="313.70,217.70 329.36,211.69 345.02,215.39 376.34,245.42 407.66,256.51 438.98,257.43 470.30,259.74" fill="none" stroke="#2f9f55" stroke-width="2.7" stroke-linejoin="miter" />
<circle cx="313.7" cy="217.70000000000002" r="2.3" fill="#2f9f55"/>
<circle cx="329.36" cy="211.69400000000002" r="2.3" fill="#2f9f55"/>
<circle cx="345.02" cy="215.39000000000001" r="2.3" fill="#2f9f55"/>
<circle cx="376.34" cy="245.42000000000002" r="2.3" fill="#2f9f55"/>
<circle cx="407.65999999999997" cy="256.50800000000004" r="2.3" fill="#2f9f55"/>
<circle cx="438.97999999999996" cy="257.432" r="2.3" fill="#2f9f55"/>
<circle cx="470.29999999999995" cy="259.742" r="2.3" fill="#2f9f55"/>
<polyline points="313.70,217.70 329.36,214.93 345.02,226.94 376.34,275.91 407.66,272.22 438.98,263.90 470.30,264.36" fill="none" stroke="#1f66aa" stroke-width="2.7" stroke-linejoin="miter" />
<circle cx="313.7" cy="217.70000000000002" r="2.3" fill="#1f66aa"/>
<circle cx="329.36" cy="214.928" r="2.3" fill="#1f66aa"/>
<circle cx="345.02" cy="226.94" r="2.3" fill="#1f66aa"/>
<circle cx="376.34" cy="275.91200000000003" r="2.3" fill="#1f66aa"/>
<circle cx="407.65999999999997" cy="272.216" r="2.3" fill="#1f66aa"/>
<circle cx="438.97999999999996" cy="263.90000000000003" r="2.3" fill="#1f66aa"/>
<circle cx="470.29999999999995" cy="264.362" r="2.3" fill="#1f66aa"/>
<polyline points="313.70,217.70 329.36,211.23 345.02,214.93 376.34,268.52 407.66,299.01 438.98,300.40 470.30,301.32" fill="none" stroke="#efb134" stroke-width="2.7" stroke-linejoin="miter" />
<circle cx="313.7" cy="217.70000000000002" r="2.3" fill="#efb134"/>
<circle cx="329.36" cy="211.23200000000003" r="2.3" fill="#efb134"/>
<circle cx="345.02" cy="214.928" r="2.3" fill="#efb134"/>
<circle cx="376.34" cy="268.52000000000004" r="2.3" fill="#efb134"/>
<circle cx="407.65999999999997" cy="299.012" r="2.3" fill="#efb134"/>
<circle cx="438.97999999999996" cy="300.398" r="2.3" fill="#efb134"/>
<circle cx="470.29999999999995" cy="301.322" r="2.3" fill="#efb134"/>
<polyline points="313.70,217.70 329.36,208.00 345.02,257.43 376.34,302.71 407.66,304.56 438.98,302.71 470.30,295.04" fill="none" stroke="#dc2230" stroke-width="2.7" stroke-linejoin="miter" />
<circle cx="313.7" cy="217.70000000000002" r="2.3" fill="#dc2230"/>
<circle cx="329.36" cy="207.99800000000002" r="2.3" fill="#dc2230"/>
<circle cx="345.02" cy="257.432" r="2.3" fill="#dc2230"/>
<circle cx="376.34" cy="302.708" r="2.3" fill="#dc2230"/>
<circle cx="407.65999999999997" cy="304.55600000000004" r="2.3" fill="#dc2230"/>
<circle cx="438.97999999999996" cy="302.708" r="2.3" fill="#dc2230"/>
<circle cx="470.29999999999995" cy="295.03880000000004" r="2.3" fill="#dc2230"/>
<polyline points="313.70,217.70 329.36,217.70 345.02,222.32 376.34,250.96 407.66,256.51 438.98,252.81 470.30,256.97" fill="none" stroke="#8d8d8d" stroke-width="2.7" stroke-linejoin="miter" stroke-dasharray="3.6,2.2"/>
<rect x="311.7" y="215.70000000000002" width="4" height="4" fill="#8d8d8d"/>
<rect x="327.36" y="215.70000000000002" width="4" height="4" fill="#8d8d8d"/>
<rect x="343.02" y="220.32000000000002" width="4" height="4" fill="#8d8d8d"/>
<rect x="374.34" y="248.96400000000003" width="4" height="4" fill="#8d8d8d"/>
<rect x="405.65999999999997" y="254.50800000000004" width="4" height="4" fill="#8d8d8d"/>
<rect x="436.97999999999996" y="250.812" width="4" height="4" fill="#8d8d8d"/>
<rect x="468.29999999999995" y="254.97000000000003" width="4" height="4" fill="#8d8d8d"/>
<polyline points="473.5,260.6 477.5,260.6 477.5,295.3 473.5,295.3" fill="none" stroke="#3a3a3a" stroke-width="1.0"/>
<polygon points="481.10,275.90 481.89,277.71 483.86,277.90 482.38,279.22 482.80,281.15 481.10,280.15 479.40,281.15 479.82,279.22 478.34,277.90 480.31,277.71" fill="#111"/>
<polygon points="486.30,275.90 487.09,277.71 489.06,277.90 487.58,279.22 488.00,281.15 486.30,280.15 484.60,281.15 485.02,279.22 483.54,277.90 485.51,277.71" fill="#111"/>
<polyline points="487.8,260.6 491.5,260.6 491.5,302.5 487.8,302.5" fill="none" stroke="#3a3a3a" stroke-width="1.0"/>
<polygon points="494.10,278.70 494.89,280.51 496.86,280.70 495.38,282.02 495.80,283.95 494.10,282.95 492.40,283.95 492.82,282.02 491.34,280.70 493.31,280.51" fill="#111"/>
<polygon points="499.30,278.70 500.09,280.51 502.06,280.70 500.58,282.02 501.00,283.95 499.30,282.95 497.60,283.95 498.02,282.02 496.54,280.70 498.51,280.51" fill="#111"/>
<text x="396.5" y="334.5" font-size="8.6" text-anchor="middle" font-weight="normal" fill="#111" stroke="#111" stroke-width="0.28" >Sulfasalazine (μmol/L)</text>
<rect x="341.8" y="339.0" width="106.0" height="34.6" fill="none" stroke="#222" stroke-width="1"/>
<line x1="347.7" y1="346.6" x2="365.0" y2="346.6" stroke="#dc2230" stroke-width="3.0" />
<circle cx="356.3" cy="346.6" r="2.0" fill="#dc2230"/>
<text x="367.3" y="349.6" font-size="8.3" text-anchor="start" font-weight="normal" fill="#111" stroke="#111" stroke-width="0.28" >HSC-2</text>
<line x1="396.2" y1="346.6" x2="413.5" y2="346.6" stroke="#1f66aa" stroke-width="3.0" />
<circle cx="404.8" cy="346.6" r="2.0" fill="#1f66aa"/>
<text x="415.8" y="349.6" font-size="8.3" text-anchor="start" font-weight="normal" fill="#111" stroke="#111" stroke-width="0.28" >HSC-3</text>
<line x1="347.7" y1="357.7" x2="365.0" y2="357.7" stroke="#2f9f55" stroke-width="3.0" />
<circle cx="356.3" cy="357.7" r="2.0" fill="#2f9f55"/>
<text x="367.3" y="360.7" font-size="8.3" text-anchor="start" font-weight="normal" fill="#111" stroke="#111" stroke-width="0.28" >HSC-4</text>
<line x1="396.2" y1="357.7" x2="413.5" y2="357.7" stroke="#efb134" stroke-width="3.0" />
<circle cx="404.8" cy="357.7" r="2.0" fill="#efb134"/>
<text x="415.8" y="360.7" font-size="8.3" text-anchor="start" font-weight="normal" fill="#111" stroke="#111" stroke-width="0.28" >OSC19</text>
<line x1="347.7" y1="366.9" x2="365" y2="366.9" stroke="#8d8d8d" stroke-width="2.8" stroke-dasharray="4,2"/>
<rect x="354.4" y="364.9" width="4" height="4" fill="#8d8d8d"/>
<text x="367.3" y="369.9" font-size="8.3" text-anchor="start" font-weight="normal" fill="#111" stroke="#111" stroke-width="0.28" >HaCaT</text>
<text x="14.3" y="416.0" font-size="12.8" text-anchor="start" font-weight="bold" fill="#111"  >E</text>
<text x="43.3" y="438.2" font-size="9.2" text-anchor="middle" font-weight="normal" fill="#111" stroke="#111" stroke-width="0.28" >HSC-2</text>
<line x1="24.3" y1="440.4" x2="61.3" y2="440.4" stroke="#111" stroke-width="1.6" />
<text x="83.5" y="438.2" font-size="9.2" text-anchor="middle" font-weight="normal" fill="#111" stroke="#111" stroke-width="0.28" >HSC-3</text>
<line x1="64.5" y1="440.4" x2="102.5" y2="440.4" stroke="#111" stroke-width="1.6" />
<text x="127" y="438.2" font-size="9.2" text-anchor="middle" font-weight="normal" fill="#111" stroke="#111" stroke-width="0.28" >HSC-4</text>
<line x1="107.4" y1="440.4" x2="146.5" y2="440.4" stroke="#111" stroke-width="1.6" />
<text x="174" y="438.2" font-size="9.2" text-anchor="middle" font-weight="normal" fill="#111" stroke="#111" stroke-width="0.28" >OSC19</text>
<line x1="157.5" y1="440.4" x2="191" y2="440.4" stroke="#111" stroke-width="1.6" />
<text transform="translate(39.1,498.1) rotate(-90)" stroke="#111" stroke-width="0.28" font-size="8.3" fill="#111">Control siRNA</text>
<text transform="translate(57,498.1) rotate(-90)" stroke="#111" stroke-width="0.28" font-size="8.3" fill="#111">xCT siRNA</text>
<text transform="translate(80,498.1) rotate(-90)" stroke="#111" stroke-width="0.28" font-size="8.3" fill="#111">Control siRNA</text>
<text transform="translate(99.4,498.1) rotate(-90)" stroke="#111" stroke-width="0.28" font-size="8.3" fill="#111">xCT siRNA</text>
<text transform="translate(120,498.1) rotate(-90)" stroke="#111" stroke-width="0.28" font-size="8.3" fill="#111">Control siRNA</text>
<text transform="translate(140.2,498.1) rotate(-90)" stroke="#111" stroke-width="0.28" font-size="8.3" fill="#111">xCT siRNA</text>
<text transform="translate(168.7,498.1) rotate(-90)" stroke="#111" stroke-width="0.28" font-size="8.3" fill="#111">Control siRNA</text>
<text transform="translate(188.8,498.1) rotate(-90)" stroke="#111" stroke-width="0.28" font-size="8.3" fill="#111">xCT siRNA</text>
<rect x="24.1" y="500.3" width="124.3" height="16" fill="#ebebeb" />
<rect x="153.8" y="500.3" width="41.2" height="16" fill="#ebebeb" />
<g filter="url(#b3)">
<rect x="25.0" y="504.2" width="18.0" height="6.0" rx="1.5" fill="#000" opacity="1.0"/>
<rect x="25.0" y="509.5" width="18.0" height="4.0" rx="1.5" fill="#000" opacity="0.85"/>
<rect x="46" y="506.4" width="15.600000000000001" height="2.2" rx="1.5" fill="#000" opacity="0.25"/>
<rect x="46" y="511.8" width="15.600000000000001" height="2.6" rx="1.5" fill="#000" opacity="0.85"/>
<rect x="66.2" y="505.8" width="15.5" height="2.8" rx="1.5" fill="#000" opacity="0.62"/>
<rect x="66.2" y="511.8" width="15.5" height="2.8" rx="1.5" fill="#000" opacity="0.92"/>
<rect x="87.2" y="505.8" width="15.599999999999994" height="2.2" rx="1.5" fill="#000" opacity="0.22"/>
<rect x="87.2" y="511.2" width="15.599999999999994" height="2.2" rx="1.5" fill="#000" opacity="0.3"/>
<rect x="108.7" y="505.6" width="16.299999999999997" height="2.8" rx="1.5" fill="#000" opacity="0.62"/>
<rect x="128.5" y="506.5" width="16.69999999999999" height="2" rx="1.5" fill="#000" opacity="0.08"/>
<rect x="156.7" y="505.8" width="17.30000000000001" height="5.2" rx="1.5" fill="#000" opacity="1.0"/>
<rect x="177.5" y="506.6" width="16.5" height="3.0" rx="1.5" fill="#000" opacity="0.82"/>
</g>
<text x="86.2" y="525.4" font-size="9.5" text-anchor="middle" font-weight="normal" fill="#111" stroke="#111" stroke-width="0.28" >xCT</text>
<text x="176.5" y="525.6" font-size="9.5" text-anchor="middle" font-weight="normal" fill="#111" stroke="#111" stroke-width="0.28" >xCT</text>
<rect x="24.1" y="530.5" width="124.3" height="11.5" fill="#f2f2f2" />
<rect x="153.8" y="530.5" width="41.2" height="11.5" fill="#f0f0f0" />
<g filter="url(#b3)">
<rect x="25.5" y="533.9" width="18.0" height="5.2" rx="2.2" fill="#050505"/>
<rect x="45.5" y="533.9" width="18.0" height="5.2" rx="2.2" fill="#050505"/>
<rect x="66" y="533.9" width="18" height="5.2" rx="2.2" fill="#050505"/>
<rect x="86" y="533.9" width="18" height="5.2" rx="2.2" fill="#050505"/>
<rect x="107" y="533.9" width="18.5" height="5.2" rx="2.2" fill="#050505"/>
<rect x="127" y="533.9" width="19.5" height="5.2" rx="2.2" fill="#050505"/>
<rect x="155.5" y="533.9" width="19.0" height="5.2" rx="2.2" fill="#050505"/>
<rect x="176.5" y="533.9" width="18.0" height="5.2" rx="2.2" fill="#050505"/>
</g>
<text x="85.9" y="555.6" font-size="9.3" text-anchor="middle" font-weight="normal" fill="#111" stroke="#111" stroke-width="0.28" >β-Actin</text>
<text x="176.3" y="555.6" font-size="9.3" text-anchor="middle" font-weight="normal" fill="#111" stroke="#111" stroke-width="0.28" >β-Actin</text>
<text x="212.2" y="387.9" font-size="12.8" text-anchor="start" font-weight="bold" fill="#111"  >F</text>
<text transform="translate(220.4,433) rotate(-90)" stroke="#111" stroke-width="0.28" font-size="7.8" text-anchor="middle" fill="#111">Cell growth (%)</text>
<text x="235.6" y="479.0" font-size="6.8" text-anchor="end" font-weight="normal" fill="#111" stroke="#111" stroke-width="0.28" >0</text>
<line x1="239.0" y1="476.6" x2="241.2" y2="476.6" stroke="#000" stroke-width="1.3" />
<text x="235.6" y="462.8" font-size="6.8" text-anchor="end" font-weight="normal" fill="#111" stroke="#111" stroke-width="0.28" >50</text>
<line x1="239.0" y1="460.40000000000003" x2="241.2" y2="460.40000000000003" stroke="#000" stroke-width="1.3" />
<text x="235.6" y="446.6" font-size="6.8" text-anchor="end" font-weight="normal" fill="#111" stroke="#111" stroke-width="0.28" >100</text>
<line x1="239.0" y1="444.20000000000005" x2="241.2" y2="444.20000000000005" stroke="#000" stroke-width="1.3" />
<text x="235.6" y="430.4" font-size="6.8" text-anchor="end" font-weight="normal" fill="#111" stroke="#111" stroke-width="0.28" >150</text>
<line x1="239.0" y1="428.0" x2="241.2" y2="428.0" stroke="#000" stroke-width="1.3" />
<text x="235.6" y="414.2" font-size="6.8" text-anchor="end" font-weight="normal" fill="#111" stroke="#111" stroke-width="0.28" >200</text>
<line x1="239.0" y1="411.8" x2="241.2" y2="411.8" stroke="#000" stroke-width="1.3" />
<text x="235.6" y="398.0" font-size="6.8" text-anchor="end" font-weight="normal" fill="#111" stroke="#111" stroke-width="0.28" >250</text>
<line x1="239.0" y1="395.6" x2="241.2" y2="395.6" stroke="#000" stroke-width="1.3" />
<text x="255.8" y="487.0" font-size="7.8" text-anchor="middle" font-weight="normal" fill="#111" stroke="#111" stroke-width="0.28" >24</text>
<line x1="255.28" y1="477.6" x2="255.28" y2="479.8" stroke="#000" stroke-width="1.2" />
<text x="281.3" y="487.0" font-size="7.8" text-anchor="middle" font-weight="normal" fill="#111" stroke="#111" stroke-width="0.28" >48</text>
<line x1="280.78" y1="477.6" x2="280.78" y2="479.8" stroke="#000" stroke-width="1.2" />
<text x="307.6" y="487.0" font-size="7.8" text-anchor="middle" font-weight="normal" fill="#111" stroke="#111" stroke-width="0.28" >72</text>
<line x1="307.08" y1="477.6" x2="307.08" y2="479.8" stroke="#000" stroke-width="1.2" />
<text x="333.3" y="487.0" font-size="7.8" text-anchor="middle" font-weight="normal" fill="#111" stroke="#111" stroke-width="0.28" >96</text>
<line x1="332.78" y1="477.6" x2="332.78" y2="479.8" stroke="#000" stroke-width="1.2" />
<line x1="241.2" y1="393.8" x2="241.2" y2="478.6" stroke="#000" stroke-width="1.5" />
<line x1="240.5" y1="477.6" x2="345.0" y2="477.6" stroke="#000" stroke-width="1.5" />
<text x="294.45" y="497.40000000000003" font-size="8.0" text-anchor="middle" font-weight="normal" fill="#111" stroke="#111" stroke-width="0.28" >Time (h)</text>
<line x1="280.5" y1="417.632" x2="280.5" y2="424.76" stroke="#555" stroke-width="0.8" />
<line x1="279.0" y1="417.632" x2="282.0" y2="417.632" stroke="#555" stroke-width="0.8" />
<line x1="279.0" y1="424.76" x2="282.0" y2="424.76" stroke="#555" stroke-width="0.8" />
<line x1="306.5" y1="406.616" x2="306.5" y2="408.56" stroke="#555" stroke-width="0.8" />
<line x1="305.0" y1="406.616" x2="308.0" y2="406.616" stroke="#555" stroke-width="0.8" />
<line x1="305.0" y1="408.56" x2="308.0" y2="408.56" stroke="#555" stroke-width="0.8" />
<line x1="332.5" y1="409.856" x2="332.5" y2="413.42" stroke="#555" stroke-width="0.8" />
<line x1="331.0" y1="409.856" x2="334.0" y2="409.856" stroke="#555" stroke-width="0.8" />
<line x1="331.0" y1="413.42" x2="334.0" y2="413.42" stroke="#555" stroke-width="0.8" />
<polyline points="254.50,444.20 280.00,421.20 306.30,407.59 332.00,411.80" fill="none" stroke="#000" stroke-width="1.9" stroke-linejoin="miter" />
<path d="M254.5,442.20000000000005 L256.5,444.20000000000005 L254.5,446.20000000000005 L252.5,444.20000000000005 Z" fill="#000"/>
<path d="M280.0,419.196 L282.0,421.196 L280.0,423.196 L278.0,421.196 Z" fill="#000"/>
<path d="M306.3,405.588 L308.3,407.588 L306.3,409.588 L304.3,407.588 Z" fill="#000"/>
<path d="M332.0,409.8 L334.0,411.8 L332.0,413.8 L330.0,411.8 Z" fill="#000"/>
<polyline points="254.50,444.20 280.00,447.44 306.30,455.86 332.00,464.94" fill="none" stroke="#000" stroke-width="1.8" stroke-linejoin="miter" stroke-dasharray="3.6,2.3"/>
<rect x="252.8" y="442.50000000000006" width="3.4" height="3.4" fill="#000"/>
<rect x="278.3" y="445.74" width="3.4" height="3.4" fill="#000"/>
<rect x="304.6" y="454.16400000000004" width="3.4" height="3.4" fill="#000"/>
<rect x="330.3" y="463.23600000000005" width="3.4" height="3.4" fill="#000"/>
<line x1="248.8" y1="387.0" x2="263.8" y2="387.0" stroke="#000" stroke-width="1.7" />
<path d="M256.3,385.0 L258.3,387.0 L256.3,389.0 L254.3,387.0 Z" fill="#000"/>
<text x="265.1" y="389.8" font-size="7.8" text-anchor="start" font-weight="normal" fill="#111" stroke="#111" stroke-width="0.28" >HSC-2 control siRNA</text>
<line x1="248.8" y1="397.2" x2="263.8" y2="397.2" stroke="#000" stroke-width="1.7" stroke-dasharray="3.2,2"/>
<rect x="254.60000000000002" y="395.5" width="3.4" height="3.4" fill="#000"/>
<text x="265.1" y="399.8" font-size="7.8" text-anchor="start" font-weight="normal" fill="#111" stroke="#111" stroke-width="0.28" >HSC-2 xCT siRNA</text>
<polyline points="338,411.476 341.5,411.476 341.5,465.26000000000005 338,465.26000000000005" fill="none" stroke="#3a3a3a" stroke-width="1.0"/>
<polygon points="345.30,436.00 346.09,437.81 348.06,438.00 346.58,439.32 347.00,441.25 345.30,440.25 343.60,441.25 344.02,439.32 342.54,438.00 344.51,437.81" fill="#111"/>
<polygon points="350.40,436.00 351.19,437.81 353.16,438.00 351.68,439.32 352.10,441.25 350.40,440.25 348.70,441.25 349.12,439.32 347.64,438.00 349.61,437.81" fill="#111"/>
<text transform="translate(367.0,432.7) rotate(-90)" stroke="#111" stroke-width="0.28" font-size="7.8" text-anchor="middle" fill="#111">Cell growth (%)</text>
<text x="383.1" y="481.29999999999995" font-size="6.8" text-anchor="end" font-weight="normal" fill="#111" stroke="#111" stroke-width="0.28" >0</text>
<line x1="386.40000000000003" y1="478.9" x2="388.6" y2="478.9" stroke="#000" stroke-width="1.3" />
<text x="383.1" y="464.69999999999993" font-size="6.8" text-anchor="end" font-weight="normal" fill="#111" stroke="#111" stroke-width="0.28" >100</text>
<line x1="386.40000000000003" y1="462.29999999999995" x2="388.6" y2="462.29999999999995" stroke="#000" stroke-width="1.3" />
<text x="383.1" y="448.09999999999997" font-size="6.8" text-anchor="end" font-weight="normal" fill="#111" stroke="#111" stroke-width="0.28" >200</text>
<line x1="386.40000000000003" y1="445.7" x2="388.6" y2="445.7" stroke="#000" stroke-width="1.3" />
<text x="383.1" y="431.49999999999994" font-size="6.8" text-anchor="end" font-weight="normal" fill="#111" stroke="#111" stroke-width="0.28" >300</text>
<line x1="386.40000000000003" y1="429.09999999999997" x2="388.6" y2="429.09999999999997" stroke="#000" stroke-width="1.3" />
<text x="383.1" y="414.9" font-size="6.8" text-anchor="end" font-weight="normal" fill="#111" stroke="#111" stroke-width="0.28" >400</text>
<line x1="386.40000000000003" y1="412.5" x2="388.6" y2="412.5" stroke="#000" stroke-width="1.3" />
<text x="383.1" y="398.29999999999995" font-size="6.8" text-anchor="end" font-weight="normal" fill="#111" stroke="#111" stroke-width="0.28" >500</text>
<line x1="386.40000000000003" y1="395.9" x2="388.6" y2="395.9" stroke="#000" stroke-width="1.3" />
<text x="403.9" y="488.29999999999995" font-size="7.8" text-anchor="middle" font-weight="normal" fill="#111" stroke="#111" stroke-width="0.28" >24</text>
<line x1="403.14" y1="478.9" x2="403.14" y2="481.09999999999997" stroke="#000" stroke-width="1.2" />
<text x="429.9" y="488.29999999999995" font-size="7.8" text-anchor="middle" font-weight="normal" fill="#111" stroke="#111" stroke-width="0.28" >48</text>
<line x1="429.14" y1="478.9" x2="429.14" y2="481.09999999999997" stroke="#000" stroke-width="1.2" />
<text x="454.9" y="488.29999999999995" font-size="7.8" text-anchor="middle" font-weight="normal" fill="#111" stroke="#111" stroke-width="0.28" >72</text>
<line x1="454.14" y1="478.9" x2="454.14" y2="481.09999999999997" stroke="#000" stroke-width="1.2" />
<text x="481.2" y="488.29999999999995" font-size="7.8" text-anchor="middle" font-weight="normal" fill="#111" stroke="#111" stroke-width="0.28" >96</text>
<line x1="480.44" y1="478.9" x2="480.44" y2="481.09999999999997" stroke="#000" stroke-width="1.2" />
<line x1="388.6" y1="395.0" x2="388.6" y2="479.9" stroke="#000" stroke-width="1.5" />
<line x1="387.90000000000003" y1="478.9" x2="492.3" y2="478.9" stroke="#000" stroke-width="1.5" />
<text x="443.4" y="495.9" font-size="8.0" text-anchor="middle" font-weight="normal" fill="#111" stroke="#111" stroke-width="0.28" >Time (h)</text>
<line x1="479.5" y1="405.85999999999996" x2="479.5" y2="418.30999999999995" stroke="#555" stroke-width="0.8" />
<line x1="478.0" y1="405.85999999999996" x2="481.0" y2="405.85999999999996" stroke="#555" stroke-width="0.8" />
<line x1="478.0" y1="418.30999999999995" x2="481.0" y2="418.30999999999995" stroke="#555" stroke-width="0.8" />
<line x1="479.5" y1="421.63" x2="479.5" y2="426.60999999999996" stroke="#555" stroke-width="0.8" />
<line x1="478.0" y1="421.63" x2="481.0" y2="421.63" stroke="#555" stroke-width="0.8" />
<line x1="478.0" y1="426.60999999999996" x2="481.0" y2="426.60999999999996" stroke="#555" stroke-width="0.8" />
<polyline points="402.00,462.30 428.00,443.54 453.00,432.42 479.30,412.50" fill="none" stroke="#000" stroke-width="1.9" stroke-linejoin="miter" />
<path d="M402.0,460.29999999999995 L404.0,462.29999999999995 L402.0,464.29999999999995 L400.0,462.29999999999995 Z" fill="#000"/>
<path d="M428.0,441.542 L430.0,443.542 L428.0,445.542 L426.0,443.542 Z" fill="#000"/>
<path d="M453.0,430.41999999999996 L455.0,432.41999999999996 L453.0,434.41999999999996 L451.0,432.41999999999996 Z" fill="#000"/>
<path d="M479.3,410.5 L481.3,412.5 L479.3,414.5 L477.3,412.5 Z" fill="#000"/>
<polyline points="402.00,462.30 428.00,449.85 453.00,436.90 479.30,424.12" fill="none" stroke="#000" stroke-width="1.8" stroke-linejoin="miter" stroke-dasharray="3.6,2.3"/>
<rect x="400.3" y="460.59999999999997" width="3.4" height="3.4" fill="#000"/>
<rect x="426.3" y="448.15" width="3.4" height="3.4" fill="#000"/>
<rect x="451.3" y="435.202" width="3.4" height="3.4" fill="#000"/>
<rect x="477.6" y="422.42" width="3.4" height="3.4" fill="#000"/>
<line x1="392.9" y1="387.0" x2="408.29999999999995" y2="387.0" stroke="#000" stroke-width="1.7" />
<path d="M400.59999999999997,385.0 L402.59999999999997,387.0 L400.59999999999997,389.0 L398.59999999999997,387.0 Z" fill="#000"/>
<text x="412.09999999999997" y="389.8" font-size="7.8" text-anchor="start" font-weight="normal" fill="#111" stroke="#111" stroke-width="0.28" >HSC-3 control siRNA</text>
<line x1="392.9" y1="397.2" x2="408.29999999999995" y2="397.2" stroke="#000" stroke-width="1.7" stroke-dasharray="3.2,2"/>
<rect x="398.9" y="395.5" width="3.4" height="3.4" fill="#000"/>
<text x="412.09999999999997" y="399.8" font-size="7.8" text-anchor="start" font-weight="normal" fill="#111" stroke="#111" stroke-width="0.28" >HSC-3 xCT siRNA</text>
<text transform="translate(220.9,553.6) rotate(-90)" stroke="#111" stroke-width="0.28" font-size="7.8" text-anchor="middle" fill="#111">Cell growth (%)</text>
<text x="238.2" y="601.8" font-size="6.8" text-anchor="end" font-weight="normal" fill="#111" stroke="#111" stroke-width="0.28" >0</text>
<line x1="240.5" y1="598.4" x2="242.7" y2="598.4" stroke="#000" stroke-width="1.3" />
<text x="238.2" y="585.25" font-size="6.8" text-anchor="end" font-weight="normal" fill="#111" stroke="#111" stroke-width="0.28" >100</text>
<line x1="240.5" y1="581.85" x2="242.7" y2="581.85" stroke="#000" stroke-width="1.3" />
<text x="238.2" y="568.6999999999999" font-size="6.8" text-anchor="end" font-weight="normal" fill="#111" stroke="#111" stroke-width="0.28" >200</text>
<line x1="240.5" y1="565.3" x2="242.7" y2="565.3" stroke="#000" stroke-width="1.3" />
<text x="238.2" y="552.15" font-size="6.8" text-anchor="end" font-weight="normal" fill="#111" stroke="#111" stroke-width="0.28" >300</text>
<line x1="240.5" y1="548.75" x2="242.7" y2="548.75" stroke="#000" stroke-width="1.3" />
<text x="238.2" y="535.5999999999999" font-size="6.8" text-anchor="end" font-weight="normal" fill="#111" stroke="#111" stroke-width="0.28" >400</text>
<line x1="240.5" y1="532.1999999999999" x2="242.7" y2="532.1999999999999" stroke="#000" stroke-width="1.3" />
<text x="238.2" y="519.05" font-size="6.8" text-anchor="end" font-weight="normal" fill="#111" stroke="#111" stroke-width="0.28" >500</text>
<line x1="240.5" y1="515.65" x2="242.7" y2="515.65" stroke="#000" stroke-width="1.3" />
<text x="255.79999999999998" y="607.8" font-size="7.8" text-anchor="middle" font-weight="normal" fill="#111" stroke="#111" stroke-width="0.28" >24</text>
<line x1="255.72" y1="598.4" x2="255.72" y2="600.6" stroke="#000" stroke-width="1.2" />
<text x="281.7" y="607.8" font-size="7.8" text-anchor="middle" font-weight="normal" fill="#111" stroke="#111" stroke-width="0.28" >48</text>
<line x1="281.62" y1="598.4" x2="281.62" y2="600.6" stroke="#000" stroke-width="1.2" />
<text x="308.0" y="607.8" font-size="7.8" text-anchor="middle" font-weight="normal" fill="#111" stroke="#111" stroke-width="0.28" >72</text>
<line x1="307.92" y1="598.4" x2="307.92" y2="600.6" stroke="#000" stroke-width="1.2" />
<text x="333.5" y="607.8" font-size="7.8" text-anchor="middle" font-weight="normal" fill="#111" stroke="#111" stroke-width="0.28" >96</text>
<line x1="333.42" y1="598.4" x2="333.42" y2="600.6" stroke="#000" stroke-width="1.2" />
<line x1="242.7" y1="514.4" x2="242.7" y2="599.4" stroke="#000" stroke-width="1.5" />
<line x1="242.0" y1="598.4" x2="346.0" y2="598.4" stroke="#000" stroke-width="1.5" />
<text x="294.34999999999997" y="617.3" font-size="8.0" text-anchor="middle" font-weight="normal" fill="#111" stroke="#111" stroke-width="0.28" >Time (h)</text>
<line x1="333.5" y1="518.1324999999999" x2="333.5" y2="525.5799999999999" stroke="#555" stroke-width="0.8" />
<line x1="332.0" y1="518.1324999999999" x2="335.0" y2="518.1324999999999" stroke="#555" stroke-width="0.8" />
<line x1="332.0" y1="525.5799999999999" x2="335.0" y2="525.5799999999999" stroke="#555" stroke-width="0.8" />
<line x1="333.5" y1="526.242" x2="333.5" y2="530.2139999999999" stroke="#555" stroke-width="0.8" />
<line x1="332.0" y1="526.242" x2="335.0" y2="526.242" stroke="#555" stroke-width="0.8" />
<line x1="332.0" y1="530.2139999999999" x2="335.0" y2="530.2139999999999" stroke="#555" stroke-width="0.8" />
<polyline points="255.60,581.85 281.50,570.26 307.80,543.78 333.30,521.77" fill="none" stroke="#000" stroke-width="1.9" stroke-linejoin="miter" />
<path d="M255.6,579.85 L257.6,581.85 L255.6,583.85 L253.6,581.85 Z" fill="#000"/>
<path d="M281.5,568.265 L283.5,570.265 L281.5,572.265 L279.5,570.265 Z" fill="#000"/>
<path d="M307.8,541.785 L309.8,543.785 L307.8,545.785 L305.8,543.785 Z" fill="#000"/>
<path d="M333.3,519.7735 L335.3,521.7735 L333.3,523.7735 L331.3,521.7735 Z" fill="#000"/>
<polyline points="255.60,581.85 281.50,574.40 307.80,561.16 333.30,528.23" fill="none" stroke="#000" stroke-width="1.8" stroke-linejoin="miter" stroke-dasharray="3.6,2.3"/>
<rect x="253.9" y="580.15" width="3.4" height="3.4" fill="#000"/>
<rect x="279.8" y="572.7024999999999" width="3.4" height="3.4" fill="#000"/>
<rect x="306.1" y="559.4625" width="3.4" height="3.4" fill="#000"/>
<rect x="331.6" y="526.5279999999999" width="3.4" height="3.4" fill="#000"/>
<line x1="248.7" y1="507.7" x2="263.7" y2="507.7" stroke="#000" stroke-width="1.7" />
<path d="M256.2,505.7 L258.2,507.7 L256.2,509.7 L254.2,507.7 Z" fill="#000"/>
<text x="265.0" y="510.5" font-size="7.8" text-anchor="start" font-weight="normal" fill="#111" stroke="#111" stroke-width="0.28" >HSC-4 control siRNA</text>
<line x1="248.7" y1="517.9" x2="263.7" y2="517.9" stroke="#000" stroke-width="1.7" stroke-dasharray="3.2,2"/>
<rect x="254.5" y="516.2" width="3.4" height="3.4" fill="#000"/>
<text x="265.0" y="520.5" font-size="7.8" text-anchor="start" font-weight="normal" fill="#111" stroke="#111" stroke-width="0.28" >HSC-4 xCT siRNA</text>
<text transform="translate(367.1,555.7) rotate(-90)" stroke="#111" stroke-width="0.28" font-size="7.8" text-anchor="middle" fill="#111">Cell growth (%)</text>
<text x="384.09999999999997" y="600.6999999999999" font-size="6.8" text-anchor="end" font-weight="normal" fill="#111" stroke="#111" stroke-width="0.28" >0</text>
<line x1="385.7" y1="598.3" x2="387.9" y2="598.3" stroke="#000" stroke-width="1.3" />
<text x="384.09999999999997" y="579.8" font-size="6.8" text-anchor="end" font-weight="normal" fill="#111" stroke="#111" stroke-width="0.28" >50</text>
<line x1="385.7" y1="577.4" x2="387.9" y2="577.4" stroke="#000" stroke-width="1.3" />
<text x="384.09999999999997" y="558.9" font-size="6.8" text-anchor="end" font-weight="normal" fill="#111" stroke="#111" stroke-width="0.28" >100</text>
<line x1="385.7" y1="556.5" x2="387.9" y2="556.5" stroke="#000" stroke-width="1.3" />
<text x="384.09999999999997" y="537.9999999999999" font-size="6.8" text-anchor="end" font-weight="normal" fill="#111" stroke="#111" stroke-width="0.28" >150</text>
<line x1="385.7" y1="535.5999999999999" x2="387.9" y2="535.5999999999999" stroke="#000" stroke-width="1.3" />
<text x="384.09999999999997" y="517.0999999999999" font-size="6.8" text-anchor="end" font-weight="normal" fill="#111" stroke="#111" stroke-width="0.28" >200</text>
<line x1="385.7" y1="514.6999999999999" x2="387.9" y2="514.6999999999999" stroke="#000" stroke-width="1.3" />
<text x="402.59999999999997" y="607.9" font-size="7.8" text-anchor="middle" font-weight="normal" fill="#111" stroke="#111" stroke-width="0.28" >24</text>
<line x1="402.12" y1="598.5" x2="402.12" y2="600.7" stroke="#000" stroke-width="1.2" />
<text x="428.7" y="607.9" font-size="7.8" text-anchor="middle" font-weight="normal" fill="#111" stroke="#111" stroke-width="0.28" >48</text>
<line x1="428.22" y1="598.5" x2="428.22" y2="600.7" stroke="#000" stroke-width="1.2" />
<text x="453.8" y="607.9" font-size="7.8" text-anchor="middle" font-weight="normal" fill="#111" stroke="#111" stroke-width="0.28" >72</text>
<line x1="453.32000000000005" y1="598.5" x2="453.32000000000005" y2="600.7" stroke="#000" stroke-width="1.2" />
<text x="479.4" y="607.9" font-size="7.8" text-anchor="middle" font-weight="normal" fill="#111" stroke="#111" stroke-width="0.28" >96</text>
<line x1="478.92" y1="598.5" x2="478.92" y2="600.7" stroke="#000" stroke-width="1.2" />
<line x1="387.9" y1="515.2" x2="387.9" y2="599.5" stroke="#000" stroke-width="1.5" />
<line x1="387.2" y1="598.5" x2="490.8" y2="598.5" stroke="#000" stroke-width="1.5" />
<text x="443.45" y="617.2" font-size="8.0" text-anchor="middle" font-weight="normal" fill="#111" stroke="#111" stroke-width="0.28" >Time (h)</text>
<line x1="427.5" y1="551.0659999999999" x2="427.5" y2="558.1719999999999" stroke="#555" stroke-width="0.8" />
<line x1="426.0" y1="551.0659999999999" x2="429.0" y2="551.0659999999999" stroke="#555" stroke-width="0.8" />
<line x1="426.0" y1="558.1719999999999" x2="429.0" y2="558.1719999999999" stroke="#555" stroke-width="0.8" />
<line x1="452.5" y1="534.346" x2="452.5" y2="543.5419999999999" stroke="#555" stroke-width="0.8" />
<line x1="451.0" y1="534.346" x2="454.0" y2="534.346" stroke="#555" stroke-width="0.8" />
<line x1="451.0" y1="543.5419999999999" x2="454.0" y2="543.5419999999999" stroke="#555" stroke-width="0.8" />
<line x1="478.5" y1="529.7479999999999" x2="478.5" y2="548.14" stroke="#555" stroke-width="0.8" />
<line x1="477.0" y1="529.7479999999999" x2="480.0" y2="529.7479999999999" stroke="#555" stroke-width="0.8" />
<line x1="477.0" y1="548.14" x2="480.0" y2="548.14" stroke="#555" stroke-width="0.8" />
<line x1="452.5" y1="558.1719999999999" x2="452.5" y2="566.5319999999999" stroke="#555" stroke-width="0.8" />
<line x1="451.0" y1="558.1719999999999" x2="454.0" y2="558.1719999999999" stroke="#555" stroke-width="0.8" />
<line x1="451.0" y1="566.5319999999999" x2="454.0" y2="566.5319999999999" stroke="#555" stroke-width="0.8" />
<line x1="478.5" y1="578.654" x2="478.5" y2="586.596" stroke="#555" stroke-width="0.8" />
<line x1="477.0" y1="578.654" x2="480.0" y2="578.654" stroke="#555" stroke-width="0.8" />
<line x1="477.0" y1="586.596" x2="480.0" y2="586.596" stroke="#555" stroke-width="0.8" />
<polyline points="401.40,556.50 427.50,555.66 452.60,539.78 478.20,539.36" fill="none" stroke="#000" stroke-width="1.9" stroke-linejoin="miter" />
<path d="M401.4,554.5 L403.4,556.5 L401.4,558.5 L399.4,556.5 Z" fill="#000"/>
<path d="M427.5,553.664 L429.5,555.664 L427.5,557.664 L425.5,555.664 Z" fill="#000"/>
<path d="M452.6,537.78 L454.6,539.78 L452.6,541.78 L450.6,539.78 Z" fill="#000"/>
<path d="M478.2,537.362 L480.2,539.362 L478.2,541.362 L476.2,539.362 Z" fill="#000"/>
<polyline points="401.40,556.50 427.50,563.19 452.60,563.19 478.20,582.42" fill="none" stroke="#000" stroke-width="1.8" stroke-linejoin="miter" stroke-dasharray="3.6,2.3"/>
<rect x="399.7" y="554.8" width="3.4" height="3.4" fill="#000"/>
<rect x="425.8" y="561.4879999999999" width="3.4" height="3.4" fill="#000"/>
<rect x="450.90000000000003" y="561.4879999999999" width="3.4" height="3.4" fill="#000"/>
<rect x="476.5" y="580.7159999999999" width="3.4" height="3.4" fill="#000"/>
<line x1="392.9" y1="508.0" x2="408.29999999999995" y2="508.0" stroke="#000" stroke-width="1.7" />
<path d="M400.59999999999997,506.0 L402.59999999999997,508.0 L400.59999999999997,510.0 L398.59999999999997,508.0 Z" fill="#000"/>
<text x="411.5" y="510.8" font-size="7.8" text-anchor="start" font-weight="normal" fill="#111" stroke="#111" stroke-width="0.28" >OSC19 control siRNA</text>
<line x1="392.9" y1="518.2" x2="408.29999999999995" y2="518.2" stroke="#000" stroke-width="1.7" stroke-dasharray="3.2,2"/>
<rect x="398.9" y="516.5" width="3.4" height="3.4" fill="#000"/>
<text x="411.5" y="520.8" font-size="7.8" text-anchor="start" font-weight="normal" fill="#111" stroke="#111" stroke-width="0.28" >OSC19 xCT siRNA</text>
<polyline points="484.5,540.198 487.5,540.198 487.5,582.834 484.5,582.834" fill="none" stroke="#3a3a3a" stroke-width="1.0"/>
<polygon points="490.80,558.90 491.59,560.71 493.56,560.90 492.08,562.22 492.50,564.15 490.80,563.15 489.10,564.15 489.52,562.22 488.04,560.90 490.01,560.71" fill="#111"/>
<polygon points="495.90,558.90 496.69,560.71 498.66,560.90 497.18,562.22 497.60,564.15 495.90,563.15 494.20,564.15 494.62,562.22 493.14,560.90 495.11,560.71" fill="#111"/>
<rect x="4.5" y="5.5" width="509" height="620" fill="none" stroke="#f7f7f7" stroke-width="1"/>
<rect x="1" y="1" width="518" height="1" fill="#d6d6d6" />
<rect x="1" y="1" width="1" height="631" fill="#d2d2d2" />
<rect x="518" y="1" width="1" height="631" fill="#d0d0d0" />
<rect x="1" y="631" width="518" height="1" fill="#d4d4d4" />
<rect x="0" y="0" width="520" height="1" fill="#727272" />
<rect x="0" y="0" width="1" height="633" fill="#737373" />
<rect x="519" y="0" width="1" height="633" fill="#747474" />
<rect x="0" y="632" width="520" height="1" fill="#7a7a7a" />
</svg></body></html>
